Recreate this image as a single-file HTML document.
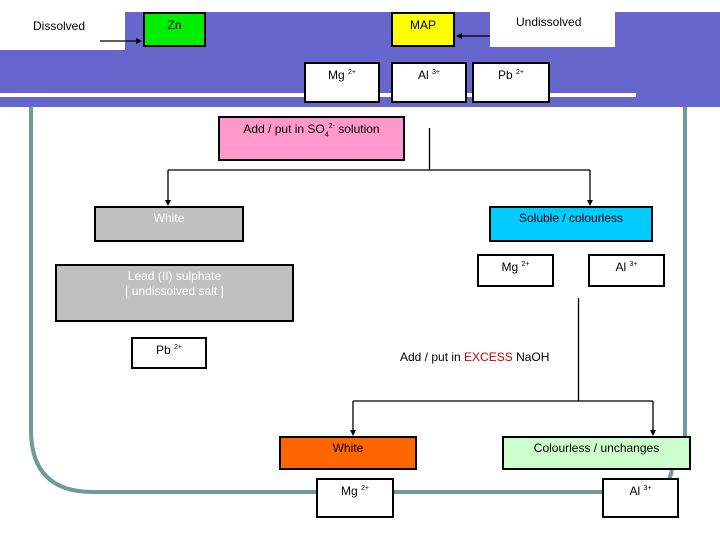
<!DOCTYPE html>
<html><head><style>
body{margin:0;width:720px;height:540px;position:relative;background:#fff;font-family:"Liberation Sans",Arial,sans-serif;font-size:12px;overflow:hidden}
.a{position:absolute;box-sizing:border-box}
.b{border:2px solid #000;text-align:center;padding-top:4px}
sup{font-size:7px}
</style></head><body>
<svg class="a" style="left:0;top:0" width="720" height="540">
<rect x="0" y="12" width="720" height="95" fill="#6666cc"/>
<rect x="0" y="93" width="636" height="4" fill="#fff"/>
<rect x="0" y="12" width="125" height="38" fill="#fff"/>
<rect x="490" y="12" width="125" height="35" fill="#fff"/>
<path d="M31 107 V430 Q31 492 93 492 H650 Q668 490 672 470" fill="none" stroke="#6f9a9a" stroke-width="4"/>
<path d="M685 107 V458" fill="none" stroke="#6f9a9a" stroke-width="4"/>
<g stroke="#000" stroke-width="1.3" fill="none">
<path d="M100 41 H138"/><path d="M490 36 H460"/>
<path d="M429.5 128 V170 M168 170 H590 M168 170 V202 M590 170 V202"/>
<path d="M578.5 298 V401 M353 401 H653 M353 401 V432 M653 401 V432"/>
</g>
<g fill="#000">
<path d="M142 41 l-6 -3 v6z"/><path d="M456 36 l6 -3 v6z"/>
<path d="M168 206 l-3 -6 h6z"/><path d="M590 206 l-3 -6 h6z"/>
<path d="M353 436 l-3 -6 h6z"/><path d="M653 436 l-3 -6 h6z"/>
</g>
</svg>
<div class="a" style="left:33px;top:19px">Dissolved</div>
<div class="a" style="left:516px;top:15px">Undissolved</div>
<div class="a b" style="left:143px;top:12px;width:63px;height:35px;background:#00ee00">Zn</div>
<div class="a b" style="left:391px;top:12px;width:64px;height:35px;background:#ffff00">MAP</div>
<div class="a b" style="left:304px;top:62px;width:76px;height:41px;background:#fff">Mg <sup>2+</sup></div>
<div class="a b" style="left:391px;top:62px;width:76px;height:41px;background:#fff">Al <sup>3+</sup></div>
<div class="a b" style="left:472px;top:62px;width:78px;height:41px;background:#fff">Pb <sup>2+</sup></div>
<div class="a b" style="left:218px;top:116px;width:187px;height:45px;background:#ff99cc">Add / put in SO<sub style="font-size:7px">4</sub><sup>2-</sup> solution</div>
<div class="a b" style="left:94px;top:206px;width:150px;height:36px;background:#c0c0c0;color:#fff;padding-top:3px">White</div>
<div class="a b" style="left:489px;top:206px;width:164px;height:36px;background:#00ccff;padding-top:3px">Soluble / colourless</div>
<div class="a b" style="left:477px;top:254px;width:77px;height:33px;background:#fff">Mg <sup>2+</sup></div>
<div class="a b" style="left:588px;top:254px;width:77px;height:33px;background:#fff">Al <sup>3+</sup></div>
<div class="a b" style="left:55px;top:264px;width:239px;height:58px;background:#c0c0c0;color:#fff;padding-top:3px;line-height:15px">Lead (II) sulphate<br>[ undissolved salt ]</div>
<div class="a b" style="left:131px;top:337px;width:76px;height:32px;background:#fff">Pb <sup>2+</sup></div>
<div class="a" style="left:400px;top:350px">Add / put in <span style="color:#cc0000">EXCESS</span> NaOH</div>
<div class="a b" style="left:279px;top:436px;width:138px;height:34px;background:#ff6600;padding-top:3px">White</div>
<div class="a b" style="left:502px;top:436px;width:189px;height:34px;background:#ccffcc;padding-top:3px">Colourless / unchanges</div>
<div class="a b" style="left:316px;top:478px;width:78px;height:40px;background:#fff">Mg <sup>2+</sup></div>
<div class="a b" style="left:602px;top:478px;width:77px;height:40px;background:#fff">Al <sup>3+</sup></div>
</body></html>
